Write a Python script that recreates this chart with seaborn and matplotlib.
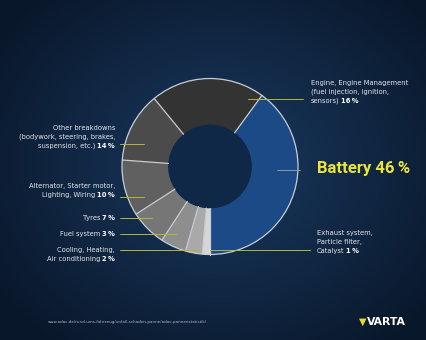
import matplotlib

matplotlib.use("Agg", force=True)
import matplotlib.pyplot as plt
import numpy as np
import seaborn as sns

# breakdown causes (label text) and the arc shares as drawn in the source graphic
categories = [
    "Battery",
    "Engine, Engine Management",
    "Other breakdowns",
    "Alternator, Starter motor, Lighting, Wiring",
    "Tyres",
    "Fuel system",
    "Cooling, Heating, Air conditioning",
    "Exhaust system, Particle filter, Catalyst",
]
pct_labels = [46, 16, 14, 10, 7, 3, 2, 1]
arc_share = [40.0, 21.0, 12.9, 10.3, 6.7, 4.7, 3.1, 1.4]
label_lines = [
    ["Battery"],
    ["Engine, Engine Management", "(fuel injection, ignition,", "sensors)"],
    ["Other breakdowns", "(bodywork, steering, brakes,", "suspension, etc.)"],
    ["Alternator, Starter motor,", "Lighting, Wiring"],
    ["Tyres"],
    ["Fuel system"],
    ["Cooling, Heating,", "Air conditioning"],
    ["Exhaust system,", "Particle filter,", "Catalyst"],
]
slice_colors = ["#1b4a87", "#333333", "#4b4b4b", "#606060",
                "#767676", "#8e8e8e", "#a9a9a9", "#d6d6d6"]

# layout in pixels (top-left origin): text anchor, first line y, leader line
W, H = 426, 340
layout = [
    ("left", 317, 168, (277, 300, 170)),
    ("left", 311, 83, (248, 303, 99)),
    ("right", 115, 128, (120, 144, 143.5)),
    ("right", 115, 186, (120, 144, 197)),
    ("right", 115, 218, (120, 152, 218)),
    ("right", 115, 234, (120, 177, 234)),
    ("right", 115, 250, (120, 200, 250)),
    ("left", 317, 233, (210, 310, 250)),
]

sns.set_theme(style="dark")
plt.rcParams["font.family"] = ["DejaVu Sans"]

fig = plt.figure(figsize=(W / 100, H / 100), dpi=100)
ax = fig.add_axes([0, 0, 1, 1])

# dark blue backdrop, lighter towards the middle
yy, xx = np.mgrid[0:H, 0:W]
t = np.clip(np.hypot((xx - 220) / 270, (yy - 165) / 230), 0, 1)[..., None]
c0 = np.array([0x1a, 0x3a, 0x61]) / 255
c1 = np.array([0x09, 0x17, 0x2a]) / 255
ax.imshow(c0 * (1 - t) + c1 * t, extent=(0, W, 0, H), origin="upper", zorder=0)

cx, cy, R, r_in = 210, H - 166.5, 88, 41.7
wedges, _ = ax.pie(
    arc_share,
    colors=slice_colors,
    startangle=-90,
    counterclock=True,
    center=(cx, cy),
    radius=R,
    wedgeprops=dict(width=R - r_in, edgecolor="none", linewidth=0),
    frame=True,
)
edge_col = "#c9cdd3"
for w in wedges:
    a = np.deg2rad(w.theta1)
    ax.plot([cx + r_in * np.cos(a), cx + R * np.cos(a)],
            [cy + r_in * np.sin(a), cy + R * np.sin(a)],
            color=edge_col, lw=0.9, zorder=3)
ax.add_patch(plt.Circle((cx, cy), R, fill=False, ec=edge_col, lw=0.9, zorder=3))
ax.add_patch(plt.Circle((cx, cy), r_in, fc="#0f2848", ec="none", zorder=2))

txt_col = "#e2e6eb"
lead_col = "#b3b53a"
fs = 4.9

for i, (lines, pct) in enumerate(zip(label_lines, pct_labels)):
    side, x, y0, (lx0, lx1, ly) = layout[i]
    ax.plot([lx0, lx1], [H - ly, H - ly],
            color="#8d99a8" if i == 0 else lead_col, lw=0.7, zorder=4)
    if i == 0:
        ax.text(x, H - y0, f"{lines[0]} {pct}\u2009%", ha="left", va="center",
                fontsize=12, fontweight="bold", color="#ece43a",
                family=["Roboto", "DejaVu Sans"], zorder=5)
        continue
    for j, line in enumerate(lines):
        y = H - (y0 + j * 9)
        if j < len(lines) - 1:
            ax.text(x, y, line, ha=side, va="center", fontsize=fs, color=txt_col)
            continue
        if side == "left":
            base = ax.text(x, y, line, ha="left", va="center",
                           fontsize=fs, color=txt_col)
            ax.annotate(f"{pct}\u2009%", xy=(1, 0), xycoords=base,
                        xytext=(1.3, 0), textcoords="offset points",
                        ha="left", va="bottom", fontsize=fs,
                        fontweight="bold", color="white")
        else:
            base = ax.text(x, y, f"{pct}\u2009%", ha="right", va="center",
                           fontsize=fs, fontweight="bold", color="white")
            ax.annotate(line, xy=(0, 0), xycoords=base,
                        xytext=(-1.3, 0), textcoords="offset points",
                        ha="right", va="bottom", fontsize=fs, color=txt_col)

ax.text(48, H - 322,
        "www.adac.de/rund-ums-fahrzeug/unfall-schaden-panne/adac-pannenstatistik/",
        ha="left", va="center", fontsize=2.9, color="#aeb7c4")
ax.text(359, H - 322, "\u25bc", ha="left", va="center", fontsize=7,
        color="#e6dc2a")
ax.text(367, H - 322, "VARTA", ha="left", va="center", fontsize=7.8,
        fontweight="bold", color="white")

ax.set_xlim(0, W)
ax.set_ylim(0, H)
ax.axis("off")
fig.savefig("out.png", dpi=100)
